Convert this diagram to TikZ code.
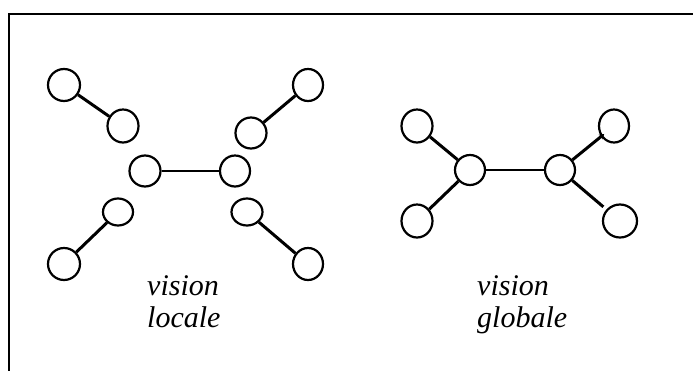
\documentclass[tikz,border=0pt]{standalone}
\usepackage{fontspec}
\setmainfont{Liberation Serif}
\usetikzlibrary{shapes.geometric,arrows.meta}
\begin{document}
\begin{tikzpicture}[x=1pt,y=-1pt,
  vert/.style={draw,ellipse,line width=2.2pt,inner sep=0pt,minimum width=31pt,minimum height=32pt},
  link/.style={line width=3pt},
  bar/.style={line width=2.2pt},
  lbl/.style={font=\itshape\fontsize{30}{32}\selectfont,align=left,inner sep=0pt,anchor=base west}]
\useasboundingbox (0,0) rectangle (693,370);
\draw[line width=2.4pt] (700,14) -- (9,14) -- (9,380);
% local view
\node[vert,minimum width=32pt] (l1) at (64,85) {};
\node[vert,minimum height=33pt] (l2) at (123,126) {};
\node[vert,minimum height=31pt] (lc1) at (145,171) {};
\node[vert,minimum width=30pt,minimum height=31pt] (lc2) at (235,171) {};
\node[vert,minimum width=30pt] (r1) at (308,85) {};
\node[vert,minimum height=31pt] (r2) at (251,133) {};
\node[vert,minimum width=30pt,minimum height=27pt] (b1) at (118,212) {};
\node[vert,minimum width=32pt] (b2) at (64,264) {};
\node[vert,minimum height=27pt] (d1) at (247,212) {};
\node[vert,minimum width=30pt] (d2) at (308,264) {};
\draw[link] (l1) -- (l2);
\draw[bar] (lc1) -- (lc2);
\draw[link] (r2) -- (r1);
\draw[link] (b1) -- (b2);
\draw[link] (d1) -- (d2);
% global view
\node[vert,minimum height=33pt] (g1) at (417,126) {};
\node[vert,minimum width=30pt,minimum height=30pt] (gc1) at (470,170) {};
\node[vert,minimum height=33pt] (g2) at (417,221) {};
\node[vert,minimum width=30pt,minimum height=30pt] (gc2) at (560,170) {};
\node[vert,minimum width=30pt,minimum height=33pt] (g3) at (614,126) {};
\node[vert,minimum width=34pt,minimum height=33pt] (g4) at (620,221) {};
\draw[link] (g1) -- (gc1);
\draw[link] (gc1) -- (g2);
\draw[bar] (gc1) -- (gc2);
\draw[link,-{Stealth[length=5pt,width=6pt]},shorten >=-4pt] (gc2) -- (g3);
\draw[link,shorten >=4pt] (gc2) -- (g4);
% labels
\node[lbl] (t1) at (147,327) {vision\\locale};
\node[lbl] (t2) at (477,327) {vision\\globale};
\end{tikzpicture}
\end{document}
